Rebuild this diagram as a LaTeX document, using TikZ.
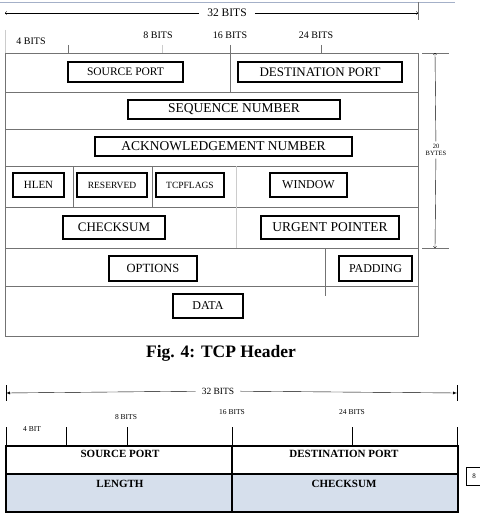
\documentclass[tikz,border=0pt]{standalone}
\usepackage{fontspec}
\setmainfont{Liberation Serif}
\newcommand{\fsz}[1]{\fontsize{#1}{#1}\selectfont}
\definecolor{rowfill}{HTML}{D6DFEC}
\definecolor{pageline}{HTML}{A4B0C8}

\begin{document}
\begin{tikzpicture}[x=1pt,y=-1pt,
	field/.style={draw=black,line width=1.3pt,inner sep=0pt},
	grid/.style={draw=black!55,line width=0.7pt},
	faint/.style={draw=black!20,line width=0.6pt},
	thickgrid/.style={draw=black,line width=1.8pt},
	tag/.style={inner sep=1pt,font=\fsz{10}},
	smalltag/.style={inner sep=1pt,font=\fsz{7.5}},
	bfield/.style={inner sep=0pt,font=\bfseries\fsz{11}}]

	\useasboundingbox (0,0) rectangle (479,519);

	% top header layout
	\draw[draw=pageline,line width=0.8pt] (0,2) -- (455,2);
	\draw[faint] (5,30) -- (5,53);
	\draw[grid] (418,2) -- (418,20);

	\coordinate (tl) at (5,13);
	\coordinate (tr) at (418,13);
	\node[fill=white,inner xsep=8pt,font=\fsz{11.5}] (wtop) at (227,13) {32 BITS};
	\path[->, thin] (wtop) edge (tl);
	\path[->, thin] (wtop) edge (tr);

	\node[tag] (b4) at (31,41) {4 BITS};
	\node[tag] (b8) at (158,35) {8 BITS};
	\node[tag] (b16) at (230,35) {16 BITS};
	\node[tag] (b24) at (316,35) {24 BITS};

	\draw[grid] (5,53) rectangle (418,336);
	\foreach \y in {92,129,166,207,248,286}
		\draw[grid] (5,\y) -- (418,\y);
	\draw[grid] (68,45) -- (68,53);
	\draw[faint] (162,45) -- (162,53);
	\draw[grid] (230,45) -- (230,92);
	\draw[grid] (321,45) -- (321,53);
	\draw[grid] (73,166) -- (73,207);
	\draw[grid] (152,166) -- (152,207);
	\draw[faint] (236,166) -- (236,248);
	\draw[grid] (325,248) -- (325,296);

	% fields
	\node[field,minimum width=115pt,minimum height=20pt,font=\fsz{11.5}] (src) at (125.5,72) {SOURCE PORT};
	\node[field,minimum width=164pt,minimum height=20pt,font=\fsz{13}] (dst) at (320,72) {DESTINATION PORT};
	\node[field,minimum width=212pt,minimum height=19pt,font=\fsz{13.5}] (seq) at (234,109.5) {SEQUENCE NUMBER};
	\node[field,minimum width=257pt,minimum height=19pt,font=\fsz{13.5}] (ack) at (223.5,146.5) {ACKNOWLEDGEMENT NUMBER};
	\node[field,minimum width=51pt,minimum height=24pt,font=\fsz{11}] (hlen) at (38.5,185) {HLEN};
	\node[field,minimum width=70pt,minimum height=24pt,font=\fsz{9.5}] (res) at (112,185) {RESERVED};
	\node[field,minimum width=68pt,minimum height=24pt,font=\fsz{9.5}] (flags) at (190,185) {TCPFLAGS};
	\node[field,minimum width=77pt,minimum height=24pt,font=\fsz{12}] (win) at (308.5,185) {WINDOW};
	\node[field,minimum width=102pt,minimum height=23pt,font=\fsz{13}] (chk) at (114,227.5) {CHECKSUM};
	\node[field,minimum width=138pt,minimum height=23pt,font=\fsz{13.5}] (urg) at (330,227.5) {URGENT POINTER};
	\node[field,minimum width=88pt,minimum height=25pt,font=\fsz{12.5}] (opt) at (153,268.5) {OPTIONS};
	\node[field,minimum width=73pt,minimum height=25pt,font=\fsz{12}] (pad) at (375.5,268.5) {PADDING};
	\node[field,minimum width=70pt,minimum height=24pt,font=\fsz{12}] (data) at (208,306) {DATA};

	% 20 bytes
	\draw[grid] (422,53) -- (449,53);
	\draw[grid] (422,248) -- (449,248);
	\coordinate (vt) at (435,53);
	\coordinate (vb) at (435,248);
	\node[fill=white,align=center,inner sep=3pt,font=\fsz{6.5}] (bytes) at (436,150) {20\\BYTES};
	\path[->, thin] (bytes) edge (vt);
	\path[->, thin] (bytes) edge (vb);

	\node[font=\bfseries\fsz{17.5}] (cap) at (221,353) {Fig. 4: TCP Header};

	% lower header layout
	\draw[thickgrid,line width=1pt] (6,385) -- (6,401);
	\draw[thickgrid,line width=1pt] (457,385) -- (457,401);
	\coordinate (bl) at (6,393);
	\coordinate (br) at (457,393);
	\node[fill=white,inner xsep=6pt,font=\fsz{9.5}] (wbot) at (218,391) {32 BITS};
	\path[-latex, thin] (wbot) edge (bl);
	\path[-latex, thin] (wbot) edge (br);

	\node[smalltag] (c4) at (32,429) {4 BIT};
	\node[smalltag] (c8) at (126,417) {8 BITS};
	\node[smalltag] (c16) at (232,412) {16 BITS};
	\node[smalltag] (c24) at (352,412) {24 BITS};

	\foreach \x in {6,66,127,232,352,457}
		\draw[thickgrid,line width=1pt] (\x,427) -- (\x,446);

	\fill[fill=rowfill] (6,474) rectangle (458,512);
	\draw[thickgrid] (6,446) rectangle (458,512);
	\draw[thickgrid] (6,474) -- (458,474);
	\draw[thickgrid] (232,446) -- (232,512);

	\node[bfield] (usrc) at (120,454) {SOURCE PORT};
	\node[bfield] (udst) at (344,454) {DESTINATION PORT};
	\node[bfield] (ulen) at (120,484) {LENGTH};
	\node[bfield] (uchk) at (344,484) {CHECKSUM};

	\draw[draw=black,line width=0.7pt] (466,467) rectangle (490,485);
	\node[inner sep=0pt,font=\fsz{7}] (eight) at (474,476) {8};

\end{tikzpicture}
\end{document}
